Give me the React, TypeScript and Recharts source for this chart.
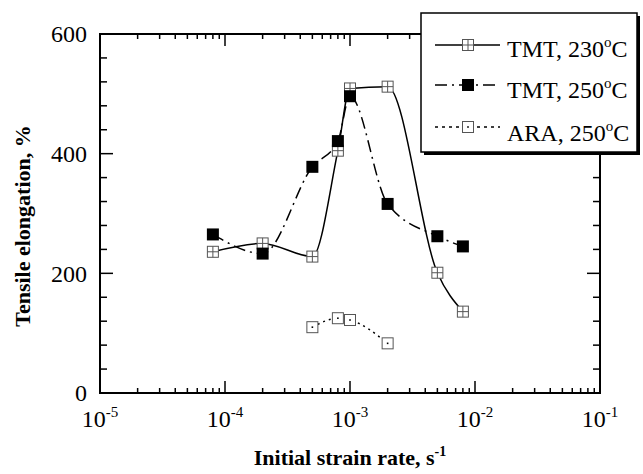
import { LineChart, Line, XAxis, YAxis, ReferenceArea } from 'recharts';

// strain rates (1/s) and tensile elongation (%)
const rates230 = [8e-5, 2e-4, 5e-4, 8e-4, 1e-3, 2e-3, 5e-3, 8e-3];
const elong230 = [236, 250, 228, 405, 509, 512, 201, 136];

const rates250 = [8e-5, 2e-4, 5e-4, 8e-4, 1e-3, 2e-3, 5e-3, 8e-3];
const elong250 = [265, 233, 378, 421, 496, 316, 262, 245];

const ratesARA = [5e-4, 8e-4, 1e-3, 2e-3];
const elongARA = [110, 125, 122, 83];

const xMajor = [1e-5, 1e-4, 1e-3, 1e-2, 1e-1];
const xMinorMult = [2, 3, 4, 5, 6, 7, 8, 9];
const yMajor = [0, 200, 400, 600];
const yTicks = [0, 40, 80, 120, 160, 200, 240, 280, 320, 360, 400, 440, 480, 520, 560, 600];

const seriesNames = ['TMT, 230', 'TMT, 250', 'ARA, 250'];

const d230 = rates230.map((x, i) => ({ x, y: elong230[i] }));
const d250 = rates250.map((x, i) => ({ x, y: elong250[i] }));
const dARA = ratesARA.map((x, i) => ({ x, y: elongARA[i] }));

const xTicks = [
  ...xMajor,
  ...xMajor.slice(0, -1).flatMap((d) => xMinorMult.map((m) => m * d)),
].sort((a, b) => a - b);

const FONT = '"Liberation Serif", "Times New Roman", serif';
const PLOT_W = 500;
const PLOT_H = 359;

function XTick(props: any) {
  const { x, y, payload } = props;
  const v = payload.value;
  const major = xMajor.includes(v);
  const len = major ? 12 : 5;
  const exp = Math.round(Math.log10(v));
  return (
    <g>
      <line x1={x} y1={y} x2={x} y2={y - len} stroke="#000" strokeWidth={1.5} />
      <line x1={x} y1={y - PLOT_H} x2={x} y2={y - PLOT_H + len} stroke="#000" strokeWidth={1.5} />
      {major && (
        <text x={x} y={y + 34} textAnchor="middle" fontFamily={FONT} fontSize={24} fill="#000">
          10
          <tspan dy={-10} fontSize={15}>{exp}</tspan>
        </text>
      )}
    </g>
  );
}

function YTick(props: any) {
  const { x, y, payload } = props;
  const v = payload.value;
  const major = yMajor.includes(v);
  const len = major ? 13 : 7;
  return (
    <g>
      <line x1={x} y1={y} x2={x + len} y2={y} stroke="#000" strokeWidth={1.5} />
      <line x1={x + PLOT_W} y1={y} x2={x + PLOT_W - len} y2={y} stroke="#000" strokeWidth={1.5} />
      {major && (
        <text x={x - 13} y={y} dy="0.35em" textAnchor="end" fontFamily={FONT} fontSize={24} fill="#000">
          {v}
        </text>
      )}
    </g>
  );
}

function GridSquare({ cx, cy }: any) {
  const s = 5.5;
  return (
    <g>
      <rect x={cx - s} y={cy - s} width={2 * s} height={2 * s} fill="#fff" stroke="#555" strokeWidth={1} />
      <line x1={cx - s} y1={cy} x2={cx + s} y2={cy} stroke="#555" strokeWidth={1} />
      <line x1={cx} y1={cy - s} x2={cx} y2={cy + s} stroke="#555" strokeWidth={1} />
    </g>
  );
}

function FilledSquare({ cx, cy }: any) {
  const s = 6;
  return <rect x={cx - s} y={cy - s} width={2 * s} height={2 * s} fill="#000" />;
}

function DotSquare({ cx, cy }: any) {
  const s = 5.5;
  return (
    <g>
      <rect x={cx - s} y={cy - s} width={2 * s} height={2 * s} fill="#fff" stroke="#555" strokeWidth={1} />
      <rect x={cx - 0.8} y={cy - 0.8} width={1.6} height={1.6} fill="#000" />
    </g>
  );
}

function LegendBox() {
  const rows = [
    { name: seriesNames[0], dash: undefined, Marker: GridSquare, my: 45, ty: 57 },
    { name: seriesNames[1], dash: '12 5 2 5', Marker: FilledSquare, my: 85, ty: 98 },
    { name: seriesNames[2], dash: '3 4', Marker: DotSquare, my: 127, ty: 141 },
  ];
  return (
    <svg width={643} height={474} style={{ position: 'absolute', left: 0, top: 0, pointerEvents: 'none' }}>
      <rect x={424} y={16} width={216} height={139} fill="#000" />
      <rect x={421} y={13} width={216} height={139} fill="#fff" stroke="#000" strokeWidth={1.5} />
      {rows.map((r) => (
        <g key={r.name}>
          <line x1={435} y1={r.my} x2={500} y2={r.my} stroke="#000" strokeWidth={1.5} strokeDasharray={r.dash} />
          <r.Marker cx={468} cy={r.my} />
          <text x={507} y={r.ty} fontFamily={FONT} fontSize={24} fill="#000">
            {r.name}
            <tspan dy={-10} fontSize={15}>o</tspan>
            <tspan dy={10}>C</tspan>
          </text>
        </g>
      ))}
    </svg>
  );
}

export default function App() {
  return (
    <div style={{ position: 'absolute', left: 0, top: 0, width: 643, height: 474, background: '#fff' }}>
      <LineChart width={643} height={474} margin={{ top: 34, right: 43, bottom: 21, left: 0 }}>
        <XAxis
          dataKey="x"
          type="number"
          scale="log"
          domain={[1e-5, 1e-1]}
          allowDataOverflow
          ticks={xTicks}
          interval={0}
          tick={(p: any) => <XTick {...p} />}
          tickLine={false}
          axisLine={false}
          tickSize={0}
          tickMargin={0}
          height={60}
        />
        <YAxis
          type="number"
          domain={[0, 600]}
          allowDataOverflow
          ticks={yTicks}
          interval={0}
          tick={(p: any) => <YTick {...p} />}
          tickLine={false}
          axisLine={false}
          tickSize={0}
          tickMargin={0}
          width={100}
        />
        <ReferenceArea x1={1e-5} x2={1e-1} y1={0} y2={600} fill="none" stroke="#000" strokeWidth={2} />
        <Line
          data={d230}
          dataKey="y"
          type="monotone"
          stroke="#000"
          strokeWidth={1.5}
          dot={(p: any) => <GridSquare key={`a${p.index}`} cx={p.cx} cy={p.cy} />}
          activeDot={false}
          isAnimationActive={false}
        />
        <Line
          data={d250}
          dataKey="y"
          type="monotone"
          stroke="#000"
          strokeWidth={1.5}
          strokeDasharray="12 5 2 5"
          dot={(p: any) => <FilledSquare key={`b${p.index}`} cx={p.cx} cy={p.cy} />}
          activeDot={false}
          isAnimationActive={false}
        />
        <Line
          data={dARA}
          dataKey="y"
          type="monotone"
          stroke="#000"
          strokeWidth={1.5}
          strokeDasharray="2 4"
          dot={(p: any) => <DotSquare key={`c${p.index}`} cx={p.cx} cy={p.cy} />}
          activeDot={false}
          isAnimationActive={false}
        />
      </LineChart>
      <svg width={643} height={474} style={{ position: 'absolute', left: 0, top: 0, pointerEvents: 'none' }}>
        <text x={30} y={226} transform="rotate(-90, 30, 226)" textAnchor="middle" fontFamily={FONT} fontSize={22} fontWeight="bold" fill="#000">
          Tensile elongation, %
        </text>
        <text x={350} y={465} textAnchor="middle" fontFamily={FONT} fontSize={22} fontWeight="bold" fill="#000">
          Initial strain rate, s
          <tspan dy={-9} fontSize={14}>-1</tspan>
        </text>
      </svg>
      <LegendBox />
    </div>
  );
}
